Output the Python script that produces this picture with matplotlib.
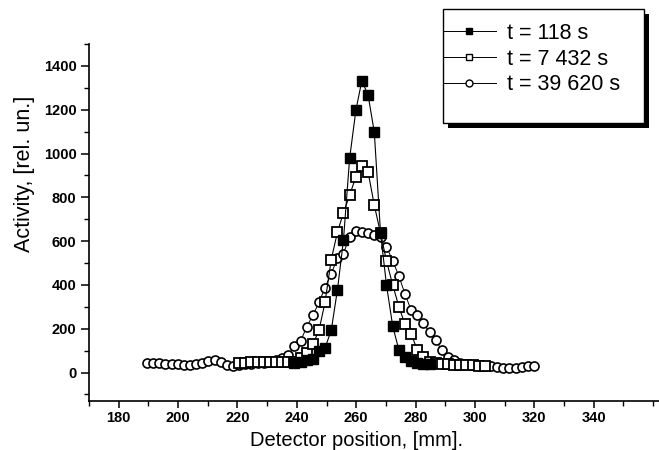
import matplotlib
matplotlib.use("Agg")
import matplotlib.pyplot as plt
from matplotlib.patches import Rectangle
from matplotlib.ticker import MultipleLocator

plt.rcParams['font.family'] = ['Liberation Sans', 'DejaVu Sans']

# detector positions (mm), common grid
pos = [189.5, 191.6, 193.6, 195.7, 197.8, 199.9, 201.9, 204.0, 206.1, 208.1,
       210.2, 212.3, 214.3, 216.4, 218.5, 220.6, 222.6, 224.7, 226.8, 228.8,
       230.9, 233.0, 235.0, 237.1, 239.2, 241.3, 243.3, 245.4, 247.5, 249.5,
       251.6, 253.7, 255.7, 257.8, 259.9, 261.9, 264.0, 266.1, 268.2, 270.2,
       272.3, 274.4, 276.4, 278.5, 280.6, 282.6, 284.7, 286.8, 288.8, 290.9,
       293.0, 295.1, 297.1, 299.2, 301.3, 303.3, 305.4, 307.5, 309.5, 311.6,
       313.7, 315.7, 317.8, 319.9]

# t = 118 s (filled squares), positions pos[24:47]
x_118 = pos[24:47]
y_118 = [45, 50, 55, 60, 99, 112, 193, 379, 604, 979, 1198, 1332, 1267, 1098,
         636, 400, 212, 102, 71, 52, 45, 40, 38]

# t = 7 432 s (open squares), positions pos[15:56]
x_7432 = pos[15:56]
y_7432 = [45, 45, 48, 48, 48, 50, 50, 48, 48, 50, 68, 90, 128, 195, 320, 516,
          642, 729, 810, 894, 942, 916, 764, 636, 510, 400, 300, 221, 178, 102,
          71, 50, 42, 40, 38, 36, 35, 34, 33, 32, 30]

# t = 39 620 s (open circles), all positions
x_39620 = pos
y_39620 = [42, 45, 42, 40, 40, 38, 36, 36, 40, 45, 52, 55, 48, 35, 32, 35, 38,
           40, 42, 45, 48, 55, 65, 79, 122, 145, 207, 262, 320, 388, 452, 521,
           543, 620, 647, 640, 635, 630, 620, 574, 510, 440, 360, 285, 262, 224,
           185, 148, 102, 71, 56, 45, 40, 35, 32, 30, 28, 25, 22, 22, 22, 25,
           32, 28]

labels = ['t = 118 s', 't = 7 432 s', 't = 39 620 s']

fig = plt.figure(figsize=(6.59, 4.5), dpi=100)
ax = fig.add_axes([89 / 659, 49 / 450, 570 / 659, 357 / 450])

l3, = ax.plot(x_39620, y_39620, '-', color='black', lw=0.7, marker='o', ms=6.5,
              mfc='white', mec='black', mew=1.2, zorder=2)
l2, = ax.plot(x_7432, y_7432, '-', color='black', lw=0.8, marker='s', ms=7,
              mfc='white', mec='black', mew=1.3, zorder=3)
l1, = ax.plot(x_118, y_118, '-', color='black', lw=0.8, marker='s', ms=6.5,
              mfc='black', mec='black', mew=1.0, zorder=4)

ax.set_xlim(170, 362)
ax.set_ylim(-130, 1500)
ax.xaxis.set_minor_locator(MultipleLocator(10))
ax.yaxis.set_minor_locator(MultipleLocator(100))
ax.set_xticks([180, 200, 220, 240, 260, 280, 300, 320, 340])
ax.set_yticks([0, 200, 400, 600, 800, 1000, 1200, 1400])

ax.spines['top'].set_visible(False)
ax.spines['right'].set_visible(False)
ax.spines['left'].set_linewidth(1.2)
ax.spines['bottom'].set_linewidth(1.2)
ax.tick_params(axis='y', which='major', direction='out', length=6, width=1.1,
               labelsize=10.5, pad=3)
ax.tick_params(axis='x', which='major', direction='out', length=5, width=1.1,
               labelsize=10.5, pad=2)
ax.tick_params(which='minor', direction='out', length=3.5, width=1.0)
for lab in ax.get_xticklabels() + ax.get_yticklabels():
    lab.set_fontweight('bold')

ax.set_xlabel('Detector position, [mm].', fontsize=14.5)
ax.xaxis.set_label_coords(0.47, -0.085)
ax.set_ylabel('Activity, [rel. un.]', fontsize=15.5)
ax.yaxis.set_label_coords(-0.095, 0.636)

# legend box with shadow
fig.add_artist(Rectangle((448 / 659, 1 - 128 / 450), 201 / 659, 114 / 450,
                         transform=fig.transFigure, facecolor='black',
                         edgecolor='none', zorder=5))
fig.add_artist(Rectangle((443 / 659, 1 - 123 / 450), 201 / 659, 114 / 450,
                         transform=fig.transFigure, facecolor='white',
                         edgecolor='black', lw=1.0, zorder=6))

h1 = plt.Line2D([], [], color='black', lw=0.7, marker='s', ms=5, mfc='black', mec='black')
h2 = plt.Line2D([], [], color='black', lw=0.7, marker='s', ms=5, mfc='white', mec='black', mew=1.0)
h3 = plt.Line2D([], [], color='black', lw=0.7, marker='o', ms=5, mfc='white', mec='black', mew=1.0)
leg = fig.legend([h1, h2, h3], labels, loc='upper left',
                 bbox_to_anchor=(443 / 659, 1 - 23 / 450), frameon=False,
                 fontsize=15.5, handlelength=2.45, handletextpad=0.5,
                 borderpad=0, borderaxespad=0, labelspacing=0.22)
leg.set_zorder(7)

fig.savefig('out.png', dpi=100)
